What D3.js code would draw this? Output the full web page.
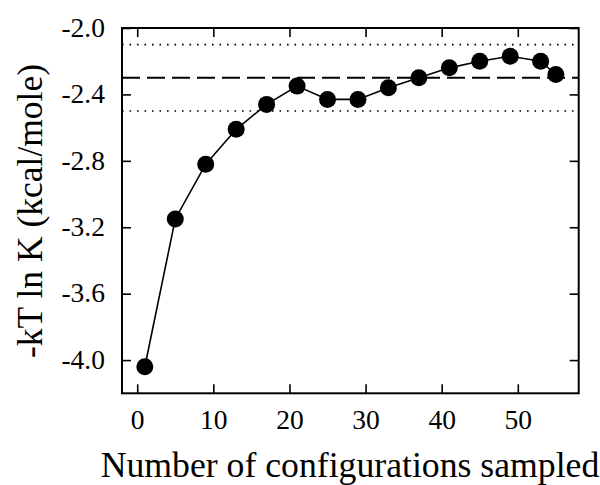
<!DOCTYPE html>
<html>
<head>
<meta charset="utf-8">
<script src="https://cdn.jsdelivr.net/npm/d3@7"></script>
<style>
  body { margin: 0; background: #fff; }
</style>
</head>
<body>
<svg id="chart"></svg>
<script>
// configurations sampled vs. -kT ln K
const samples = [1, 5, 9, 13, 17, 21, 25, 29, 33, 37, 41, 45, 49, 53, 55];
const energies = [-4.04, -3.15, -2.82, -2.61, -2.46, -2.35, -2.43, -2.43, -2.36, -2.30, -2.24, -2.20, -2.17, -2.20, -2.28];
const xTicks = [0, 10, 20, 30, 40, 50];
const yTicks = [-4.0, -3.6, -3.2, -2.8, -2.4, -2.0];
const refValue = -2.30;        // dashed line
const bandValues = [-2.10, -2.50]; // dotted lines

const SERIF = "'Liberation Serif', 'Times New Roman', serif";

class ConvergencePlot {

  constructor(_config) {
    this.config = {
      parentElement: _config.parentElement,
      containerWidth: _config.containerWidth || 600,
      containerHeight: _config.containerHeight || 485,
      margin: _config.margin || {top: 28, right: 21.3, bottom: 91.7, left: 122}
    };
    this.initVis();
  }

  initVis() {
    let vis = this;
    vis.width = vis.config.containerWidth - vis.config.margin.left - vis.config.margin.right;
    vis.height = vis.config.containerHeight - vis.config.margin.top - vis.config.margin.bottom;

    vis.xScale = d3.scaleLinear().domain([-2, 58]).range([0, vis.width]);
    vis.yScale = d3.scaleLinear().domain([-4.2, -2.0]).range([vis.height, 0]);

    vis.svg = d3.select(vis.config.parentElement)
      .attr('width', vis.config.containerWidth)
      .attr('height', vis.config.containerHeight);

    vis.chart = vis.svg.append('g')
      .attr('transform', `translate(${vis.config.margin.left},${vis.config.margin.top})`);

    // axes: ticks point inward, mirrored on top and right
    vis.xAxisG = vis.chart.append('g').attr('transform', `translate(0,${vis.height})`)
      .call(d3.axisBottom(vis.xScale).tickValues(xTicks).tickSize(-9).tickPadding(16).tickFormat(d => d.toFixed(0)));
    vis.xTopG = vis.chart.append('g')
      .call(d3.axisTop(vis.xScale).tickValues(xTicks).tickSize(-9).tickFormat(''));
    vis.yAxisG = vis.chart.append('g')
      .call(d3.axisLeft(vis.yScale).tickValues(yTicks).tickSize(-9).tickPadding(17).tickFormat(d => d.toFixed(1)));
    vis.yRightG = vis.chart.append('g').attr('transform', `translate(${vis.width},0)`)
      .call(d3.axisRight(vis.yScale).tickValues(yTicks).tickSize(-9).tickFormat(''));

    [vis.xAxisG, vis.xTopG, vis.yAxisG, vis.yRightG].forEach(g => {
      g.select('.domain').remove();
      g.selectAll('.tick line').attr('stroke', '#000').attr('stroke-width', 1.6);
      g.selectAll('.tick text')
        .attr('fill', '#000')
        .style('font-family', SERIF)
        .style('font-size', '27.5px');
    });
    vis.yAxisG.selectAll('.tick text').attr('dy', '0.3em');
    vis.xAxisG.selectAll('.tick text').attr('dy', '0.71em');

    // frame
    vis.chart.append('rect')
      .attr('width', vis.width)
      .attr('height', vis.height)
      .attr('fill', 'none')
      .attr('stroke', '#000')
      .attr('stroke-width', 2);

    vis.svg.append('text')
      .attr('x', 350)
      .attr('y', 477)
      .attr('text-anchor', 'middle')
      .style('font-family', SERIF)
      .style('font-size', '35.7px')
      .text('Number of configurations sampled');

    vis.svg.append('text')
      .attr('transform', 'translate(42,211) rotate(-90)')
      .attr('text-anchor', 'middle')
      .style('font-family', SERIF)
      .style('font-size', '35.5px')
      .text('-kT ln K (kcal/mole)');

    vis.renderVis();
  }

  renderVis() {
    let vis = this;
    const points = samples.map((s, i) => ({x: s, y: energies[i]}));

    vis.chart.selectAll('.band')
      .data(bandValues)
      .join('line')
      .attr('class', 'band')
      .attr('x1', 0).attr('x2', vis.width)
      .attr('y1', d => vis.yScale(d)).attr('y2', d => vis.yScale(d))
      .attr('stroke', '#000')
      .attr('stroke-width', 1.6)
      .attr('stroke-dasharray', '1.6,5.9');

    vis.chart.append('line')
      .attr('x1', 0).attr('x2', vis.width)
      .attr('y1', vis.yScale(refValue)).attr('y2', vis.yScale(refValue))
      .attr('stroke', '#000')
      .attr('stroke-width', 2)
      .attr('stroke-dasharray', '18,7');

    const line = d3.line().x(d => vis.xScale(d.x)).y(d => vis.yScale(d.y));
    vis.chart.append('path')
      .datum(points)
      .attr('d', line)
      .attr('fill', 'none')
      .attr('stroke', '#000')
      .attr('stroke-width', 1.6);

    vis.chart.selectAll('.pt')
      .data(points)
      .join('circle')
      .attr('class', 'pt')
      .attr('cx', d => vis.xScale(d.x))
      .attr('cy', d => vis.yScale(d.y))
      .attr('r', 8.5)
      .attr('fill', '#000');
  }
}

new ConvergencePlot({parentElement: '#chart'});
</script>
</body>
</html>
